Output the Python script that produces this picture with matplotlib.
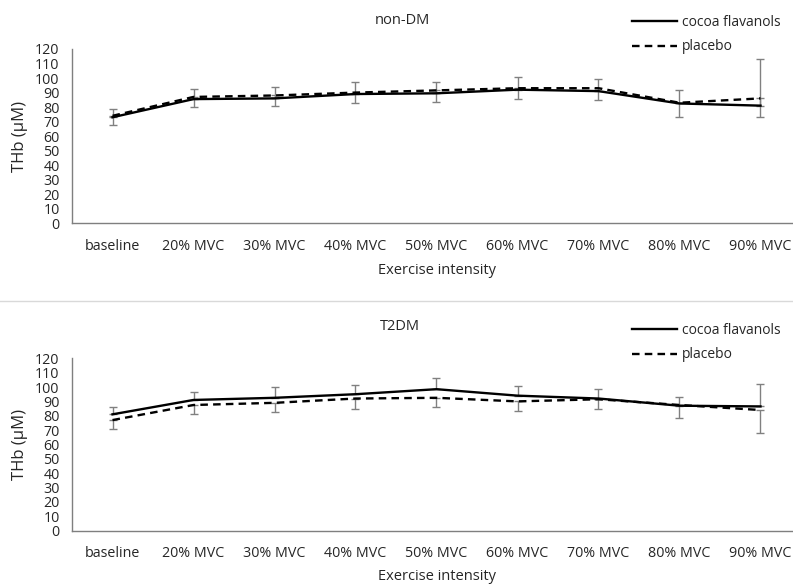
import matplotlib
matplotlib.use("Agg")
import matplotlib.pyplot as plt
from matplotlib.lines import Line2D

plt.rcParams['font.family'] = ['Open Sans', 'DejaVu Sans']

categories = ['baseline', '20% MVC', '30% MVC', '40% MVC', '50% MVC',
              '60% MVC', '70% MVC', '80% MVC', '90% MVC']
yticks = list(range(0, 121, 10))

# non-DM
nondm_cocoa = [73, 85.5, 86, 89, 89.5, 92, 91, 82.5, 81]
nondm_cocoa_err = [6, 7, 8, 8, 8, 8.5, 8.5, 9.5, 32]
nondm_placebo = [74, 87, 88, 90, 91.5, 93, 93, 83, 86]
nondm_placebo_err = [6.5, 7, 7, 7.5, 8, 7.5, 8, 10, 13]

# T2DM
t2dm_cocoa = [81, 91, 92.5, 95, 98.5, 94, 92, 87, 86.5]
t2dm_cocoa_err = [5, 5.5, 7.5, 6.5, 8, 7, 6.5, 6, 15.5]
t2dm_placebo = [77, 87.5, 89, 92, 92.5, 90, 91.5, 87.5, 84]
t2dm_placebo_err = [6, 6, 6.5, 7, 6.5, 7, 7, 9, 16]

W, H = 793, 586
fig = plt.figure(figsize=(W / 100, H / 100), dpi=100)

txt = '#262626'
spine_c = '#7f7f7f'
err_c = '#808080'


def panel(top_px, bottom_px, title, title_x, title_y, leg_y, xlab_y,
          cocoa, cocoa_err, placebo, placebo_err):
    left, right = 72, 801
    ax = fig.add_axes([left / W, 1 - bottom_px / H, (right - left) / W,
                       (bottom_px - top_px) / H])
    x = list(range(len(categories)))
    ax.errorbar(x, cocoa, yerr=[[0] * len(x), cocoa_err], fmt='none',
                ecolor=err_c, elinewidth=1, capsize=3, capthick=1, zorder=1)
    ax.errorbar(x, placebo, yerr=[placebo_err, [0] * len(x)], fmt='none',
                ecolor=err_c, elinewidth=1, capsize=3, capthick=1, zorder=1)
    ax.plot(x, cocoa, color='black', lw=1.7, zorder=3)
    ax.plot(x, placebo, color='black', lw=1.7, dashes=(3.2, 2.2), zorder=2)
    ax.set_xlim(-0.5, len(categories) - 0.5)
    ax.set_ylim(0, 120)
    ax.set_yticks(yticks)
    ax.set_xticks(x)
    ax.set_xticklabels(categories)
    ax.tick_params(length=0, labelsize=10.3, labelcolor=txt)
    ax.tick_params(axis='x', pad=11)
    ax.tick_params(axis='y', pad=9)
    for s in ['top', 'right']:
        ax.spines[s].set_visible(False)
    for s in ['left', 'bottom']:
        ax.spines[s].set_color(spine_c)
        ax.spines[s].set_linewidth(1)
    fig.text(20 / W, 1 - (top_px + bottom_px) / 2 / H, 'THb (μM)',
             rotation=90, ha='center', va='center', fontsize=12, color=txt)
    fig.text(437 / W, 1 - xlab_y / H, 'Exercise intensity', ha='center',
             va='center', fontsize=10.5, color=txt)
    fig.text(title_x / W, 1 - title_y / H, title, ha='center', va='center',
             fontsize=10.5, color=txt)
    handles = [Line2D([], [], color='black', lw=1.7),
               Line2D([], [], color='black', lw=1.7, dashes=(3.2, 2.2))]
    fig.legend(handles, ['cocoa flavanols', 'placebo'], loc='upper left',
               bbox_to_anchor=(625 / W, 1 - (leg_y - 13) / H), frameon=False,
               fontsize=10, handlelength=3.25, handletextpad=0.35,
               labelspacing=0.68, labelcolor=txt, borderpad=0)
    return ax


panel(49, 223.3, 'non-DM', 402, 20, 21, 270,
      nondm_cocoa, nondm_cocoa_err, nondm_placebo, nondm_placebo_err)
panel(358.3, 530.7, 'T2DM', 400, 327, 329, 577,
      t2dm_cocoa, t2dm_cocoa_err, t2dm_placebo, t2dm_placebo_err)

# light separator between the two charts
fig.add_artist(Line2D([0, 1], [1 - 301 / H, 1 - 301 / H], color='#d9d9d9',
                      lw=1, transform=fig.transFigure))

fig.savefig('out.png', dpi=100)
